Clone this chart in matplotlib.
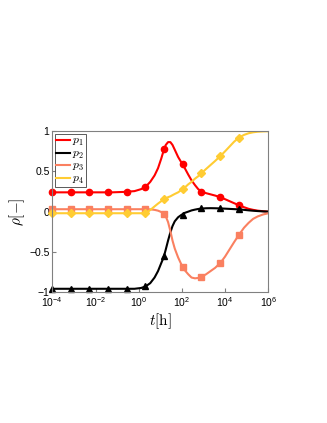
import numpy as np
import matplotlib
matplotlib.use('Agg')
import matplotlib.pyplot as plt

plt.rcParams['mathtext.fontset'] = 'cm'
plt.rcParams['font.family'] = 'Liberation Sans'

# log10(t) grid for the curves
logt = [-4, -3.30, -2.27, -1.23, -0.72, -0.20, 0.11, 0.32,
        0.53, 0.73, 0.89, 1.04, 1.15, 1.25, 1.355, 1.46, 1.56, 1.665, 1.82,
        1.975, 2.13, 2.29, 2.44, 2.60, 2.75, 2.91, 3.11, 3.32, 3.53, 3.77,
        3.99, 4.20, 4.41, 4.63, 4.87, 5.08, 5.29, 5.50, 5.755, 6.0]
p1 = [0.24, 0.24, 0.24, 0.24, 0.245, 0.255, 0.28, 0.31,
      0.37, 0.45, 0.54, 0.66, 0.76, 0.83, 0.865, 0.865, 0.83, 0.77, 0.68,
      0.61, 0.54, 0.46, 0.39, 0.33, 0.28, 0.25, 0.23, 0.215, 0.20, 0.18,
      0.155, 0.13, 0.105, 0.08, 0.055, 0.035, 0.022, 0.012, 0.005, 0.0]
p2 = [-0.96, -0.96, -0.96, -0.96, -0.96, -0.96, -0.95, -0.93,
      -0.89, -0.82, -0.74, -0.64, -0.57, -0.47, -0.36, -0.26, -0.18, -0.12,
      -0.07, -0.04, -0.015, 0.0, 0.015, 0.025, 0.033, 0.038, 0.042, 0.043,
      0.042, 0.04, 0.037, 0.034, 0.031, 0.028, 0.022, 0.016, 0.011, 0.007,
      0.003, 0.0]
p3 = [0.03, 0.03, 0.03, 0.03, 0.03, 0.03, 0.03, 0.03,
      0.028, 0.022, 0.012, -0.005, -0.025, -0.06, -0.13, -0.24, -0.36, -0.46,
      -0.57, -0.66, -0.73, -0.78, -0.82, -0.83, -0.825, -0.81, -0.78, -0.74,
      -0.70, -0.64, -0.56, -0.47, -0.38, -0.29, -0.2, -0.14, -0.09, -0.06,
      -0.035, -0.02]
p4 = [-0.02, -0.02, -0.02, -0.02, -0.02, -0.02, -0.02, -0.02,
      0.02, 0.065, 0.10, 0.13, 0.15, 0.165, 0.18, 0.19, 0.205, 0.22, 0.24,
      0.27, 0.30, 0.34, 0.37, 0.41, 0.44, 0.48, 0.53, 0.58, 0.63, 0.69, 0.75,
      0.81, 0.87, 0.92, 0.955, 0.975, 0.987, 0.994, 0.998, 1.0]

# marker positions
logt_m = [-4.0, -3.14, -2.28, -1.41, -0.55, 0.31, 1.17, 2.03, 2.9, 3.76, 4.62]
p1_m = [0.24, 0.24, 0.24, 0.24, 0.25, 0.31, 0.78, 0.59, 0.25, 0.18, 0.08]
p2_m = [-0.96, -0.96, -0.96, -0.96, -0.96, -0.93, -0.55, -0.04, 0.04, 0.04, 0.03]
p3_m = [0.03, 0.03, 0.03, 0.03, 0.03, 0.03, -0.03, -0.69, -0.81, -0.64, -0.29]
p4_m = [-0.02, -0.02, -0.02, -0.02, -0.02, -0.02, 0.16, 0.28, 0.48, 0.69, 0.92]

labels = ['$p_1$', '$p_2$', '$p_3$', '$p_4$']
colors = ['#ff0000', '#000000', '#fa8060', '#ffcc33']
markers = ['o', '^', 's', 'D']

fig = plt.figure(figsize=(3.27, 4.23), dpi=100)
ax = fig.add_axes([0.16, 0.3097, 0.661, 0.380])

t = 10.0 ** np.array(logt)
tm = 10.0 ** np.array(logt_m)
for y, ym, c, m, lab in zip([p1, p2, p3, p4], [p1_m, p2_m, p3_m, p4_m],
                            colors, markers, labels):
    ax.plot(t, y, color=c, lw=1.5, label=lab, solid_joinstyle='round')
    ax.plot(tm, ym, ls='none', marker=m, color=c,
            markersize=4.5 if m != 'D' else 4.3, clip_on=False)

ax.set_xscale('log')
ax.set_xlim(1e-4, 1e6)
ax.set_ylim(-1, 1)
ax.set_xticks([1e-4, 1e-2, 1e0, 1e2, 1e4, 1e6])
ax.set_yticks([-1, -0.5, 0, 0.5, 1])
ax.set_yticklabels(['\u22121', '\u22120.5', '0', '0.5', '1'])
ax.minorticks_off()
ax.tick_params(direction='in', labelsize=7.5, length=3, colors='#808080',
               labelcolor='black', pad=2)
for s in ax.spines.values():
    s.set_color('#808080')
    s.set_linewidth(0.8)

ax.set_xlabel(r'$t[\mathrm{h}]$', fontsize=11)
ax.set_ylabel(r'$\rho[\mathrm{-}]$', fontsize=11)
ax.xaxis.set_label_coords(0.498, -0.118)
ax.yaxis.set_label_coords(-0.116, 0.5)

leg = ax.legend(loc='upper left', fontsize=8.5, handlelength=1.15,
                handletextpad=0.2, borderpad=0.15, labelspacing=-0.05,
                borderaxespad=0.2, fancybox=False, framealpha=1)
leg.get_frame().set_edgecolor('#404040')
leg.get_frame().set_linewidth(0.6)

fig.savefig('out.png', dpi=100)
